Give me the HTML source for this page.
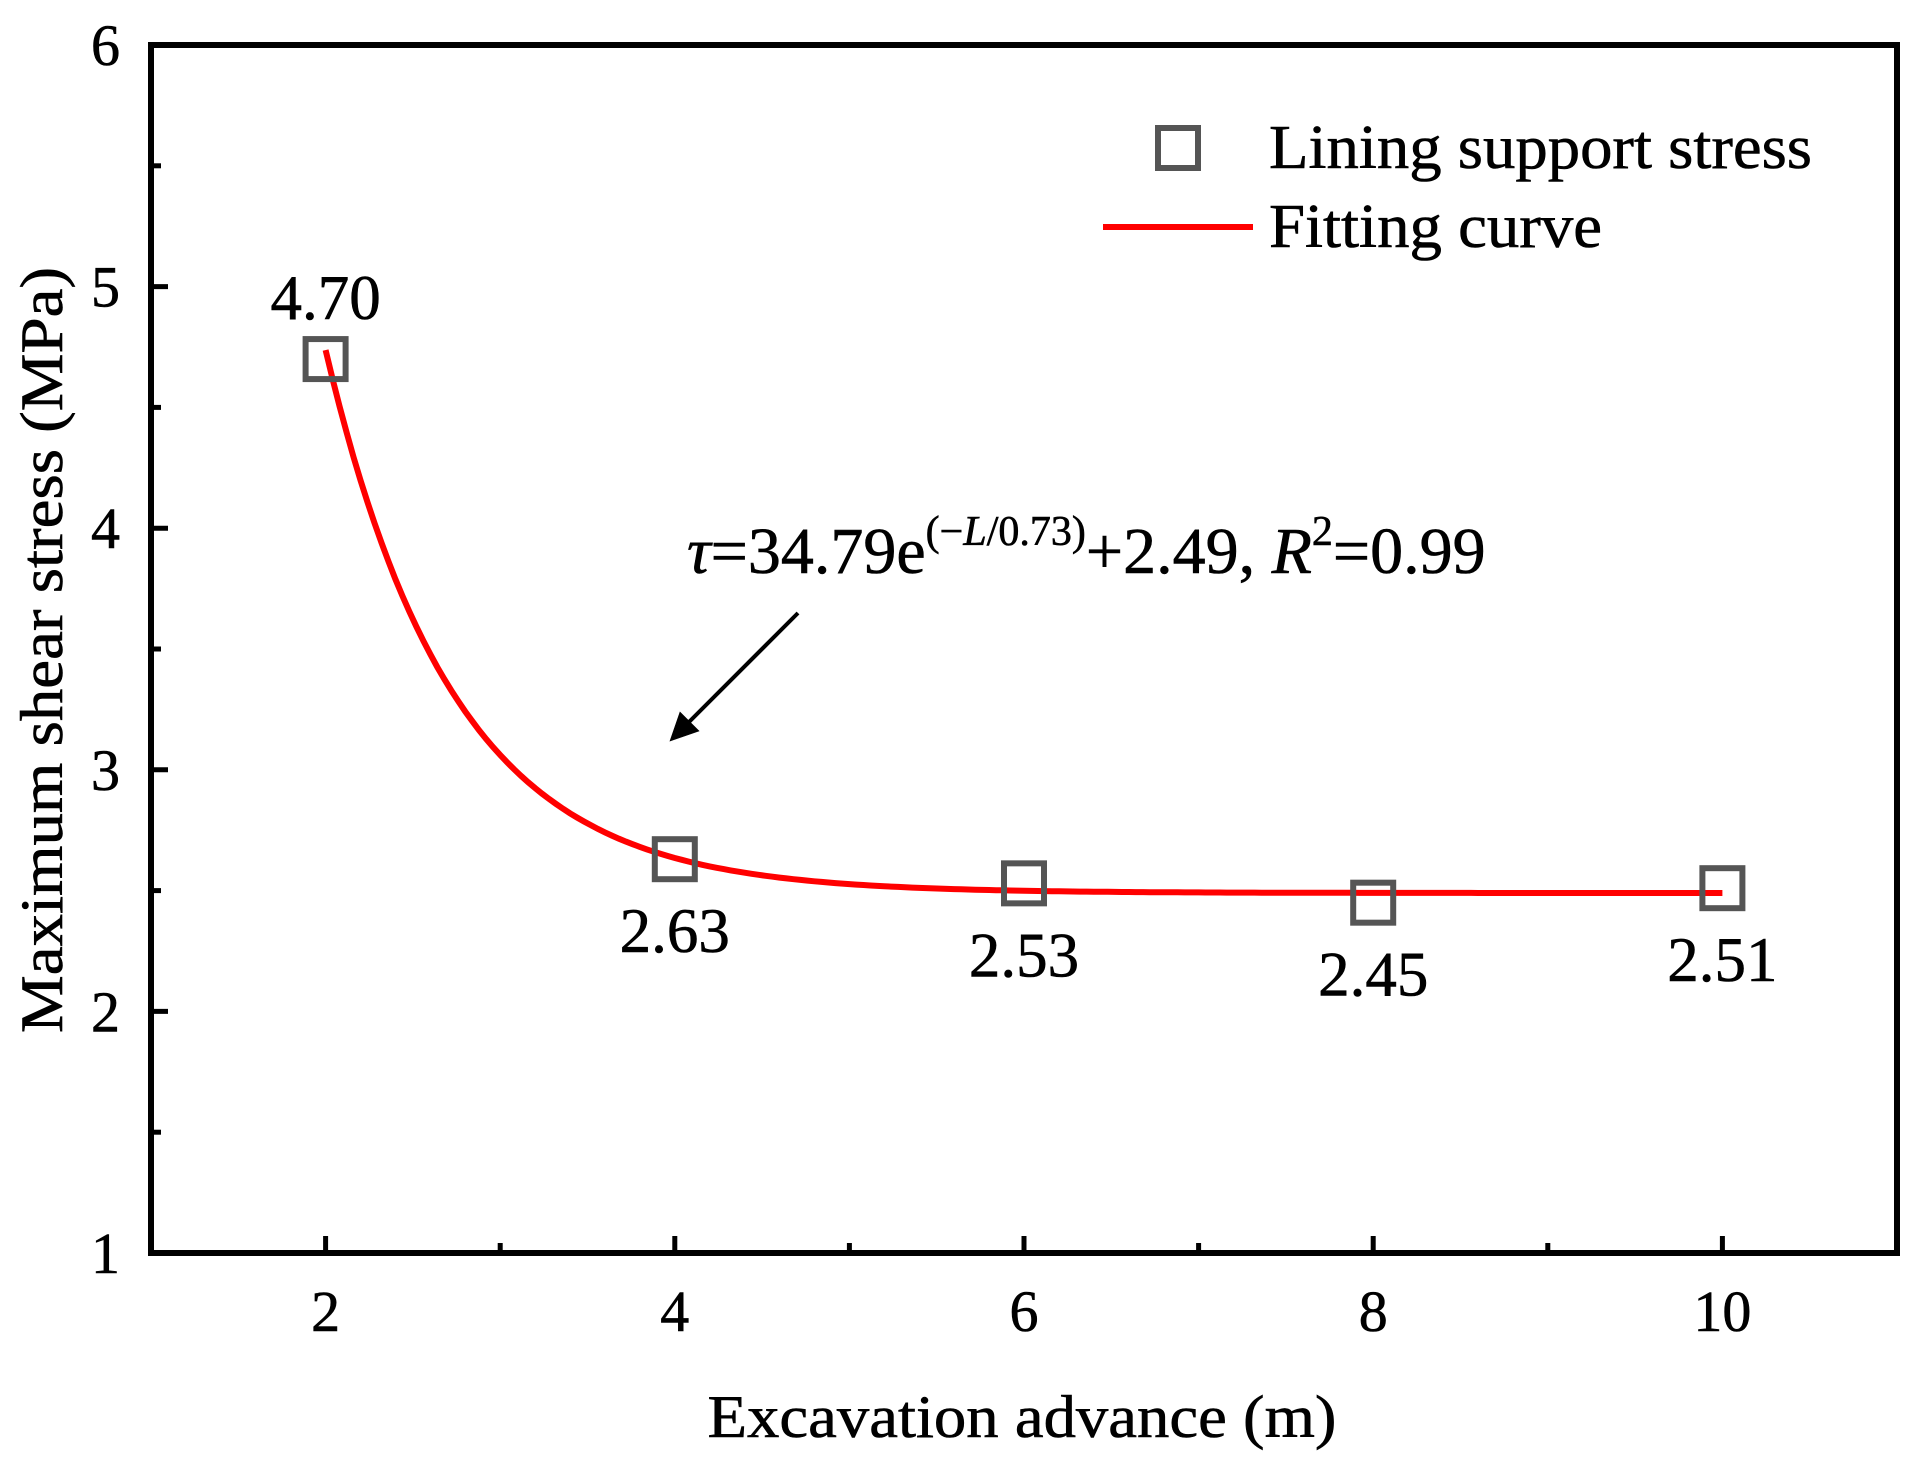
<!DOCTYPE html>
<html><head><meta charset="utf-8"><style>
html,body{margin:0;padding:0;background:#fff;}
svg{display:block;font-family:"Liberation Serif","Times New Roman",serif;}
</style></head><body>
<svg id="chart" width="1923" height="1471" viewBox="0 0 1923 1471" xmlns="http://www.w3.org/2000/svg">
<g id="marks"></g>
</svg>
<script>
const xTicks = [2, 4, 6, 8, 10];
const yTicks = [1, 2, 3, 4, 5, 6];
const xData = [2, 4, 6, 8, 10];
const yData = [4.70, 2.63, 2.53, 2.45, 2.51];
const dataLabels = ["4.70", "2.63", "2.53", "2.45", "2.51"];
const labelAbove = [true, false, false, false, false];
const fitA = [34.79];
const fitT = [0.73];
const fitC = [2.49];

const L = 151, R = 1897, T = 45, B = 1253;
const xMin = 1, xMax = 11, yMin = 1, yMax = 6;
const sx = v => L + (v - xMin) / (xMax - xMin) * (R - L);
const sy = v => B - (v - yMin) / (yMax - yMin) * (B - T);
const NS = "http://www.w3.org/2000/svg";
const svg = document.getElementById('chart');
function mk(tag, attrs, parent) {
  const e = document.createElementNS(NS, tag);
  for (const k in attrs) e.setAttribute(k, attrs[k]);
  (parent || svg).appendChild(e);
  return e;
}

const frame = mk('rect', {x: L, y: T, width: R - L, height: B - T, fill: 'none', stroke: '#000', 'stroke-width': 6});



xTicks.forEach(v => {
  const t = mk('line', {x1: sx(v), x2: sx(v), y1: B, y2: B - 17, stroke: '#000', 'stroke-width': 5});
  
  
  const m = mk('line', {x1: sx(v + 1), x2: sx(v + 1), y1: B, y2: B - 10, stroke: '#000', 'stroke-width': 5});
  
  
  const tx = mk('text', {x: sx(v), y: 1331, 'font-size': 58, 'text-anchor': 'middle', stroke: '#000', 'stroke-width': 0.6});
  tx.textContent = String(v);
  
  
});
yTicks.forEach(v => {
  const t = mk('line', {x1: L, x2: L + 17, y1: sy(v), y2: sy(v), stroke: '#000', 'stroke-width': 5});
  
  
  if (v < 6) {
    const m = mk('line', {x1: L, x2: L + 10, y1: sy(v + 0.5), y2: sy(v + 0.5), stroke: '#000', 'stroke-width': 5});
    
    
  }
  const tx = mk('text', {x: 120, y: sy(v) + 20, 'font-size': 58, 'text-anchor': 'end', stroke: '#000', 'stroke-width': 0.6});
  tx.textContent = String(v);
  
  
});

let d = '';
for (let i = 0; i <= 200; i++) {
  const x = xData[0] + (xData[xData.length - 1] - xData[0]) * i / 200;
  const y = fitA[0] * Math.exp(-x / fitT[0]) + fitC[0];
  d += (i ? 'L' : 'M') + sx(x).toFixed(1) + ',' + sy(y).toFixed(1);
}
const curve = mk('path', {d: d, fill: 'none', stroke: '#ff0000', 'stroke-width': 6});



xData.forEach((x, i) => {
  const s = 40;
  const r = mk('rect', {x: sx(x) - s / 2, y: sy(yData[i]) - s / 2, width: s, height: s, fill: 'none', stroke: '#555', 'stroke-width': 6});
  
  
  const ly = labelAbove[i] ? sy(yData[i]) - 40 : sy(yData[i]) + 93;
  const tx = mk('text', {x: sx(x), y: ly, 'font-size': 63, 'text-anchor': 'middle', stroke: '#000', 'stroke-width': 0.6});
  tx.textContent = dataLabels[i];
  
  
});
</script>
<svg style="position:absolute;left:0;top:0" width="1923" height="1471" font-family="Liberation Serif, serif" stroke="#000" stroke-width="0.6">
<g>
<rect x="1158" y="128" width="40" height="40" fill="none" stroke="#555" stroke-width="6"/>
<text x="1269" y="168" font-size="62" textLength="543" lengthAdjust="spacingAndGlyphs">Lining support stress</text>
<line x1="1103" y1="227" x2="1253" y2="227" stroke="#ff0000" stroke-width="6"/>
<text x="1269" y="247" font-size="62" textLength="333" lengthAdjust="spacingAndGlyphs">Fitting curve</text>
</g>
<text x="687" y="573" font-size="66"><tspan font-style="italic">τ</tspan>=34.79e<tspan dy="-28" font-size="42">(−<tspan font-style="italic">L</tspan>/0.73)</tspan><tspan dy="28">+2.49, </tspan><tspan font-style="italic">R</tspan><tspan dy="-28" font-size="42">2</tspan><tspan dy="28">=0.99</tspan></text>
<line x1="798" y1="613" x2="680" y2="731" stroke="#000" stroke-width="4"/>
<polygon points="670,741 680,712 699,731" fill="#000"/>
<text transform="translate(62,650) rotate(-90)" font-size="60" text-anchor="middle" textLength="766" lengthAdjust="spacingAndGlyphs">Maximum shear stress (MPa)</text>
<text x="1022" y="1437" font-size="60" text-anchor="middle" textLength="629" lengthAdjust="spacingAndGlyphs">Excavation advance (m)</text>
</svg>
</body></html>
